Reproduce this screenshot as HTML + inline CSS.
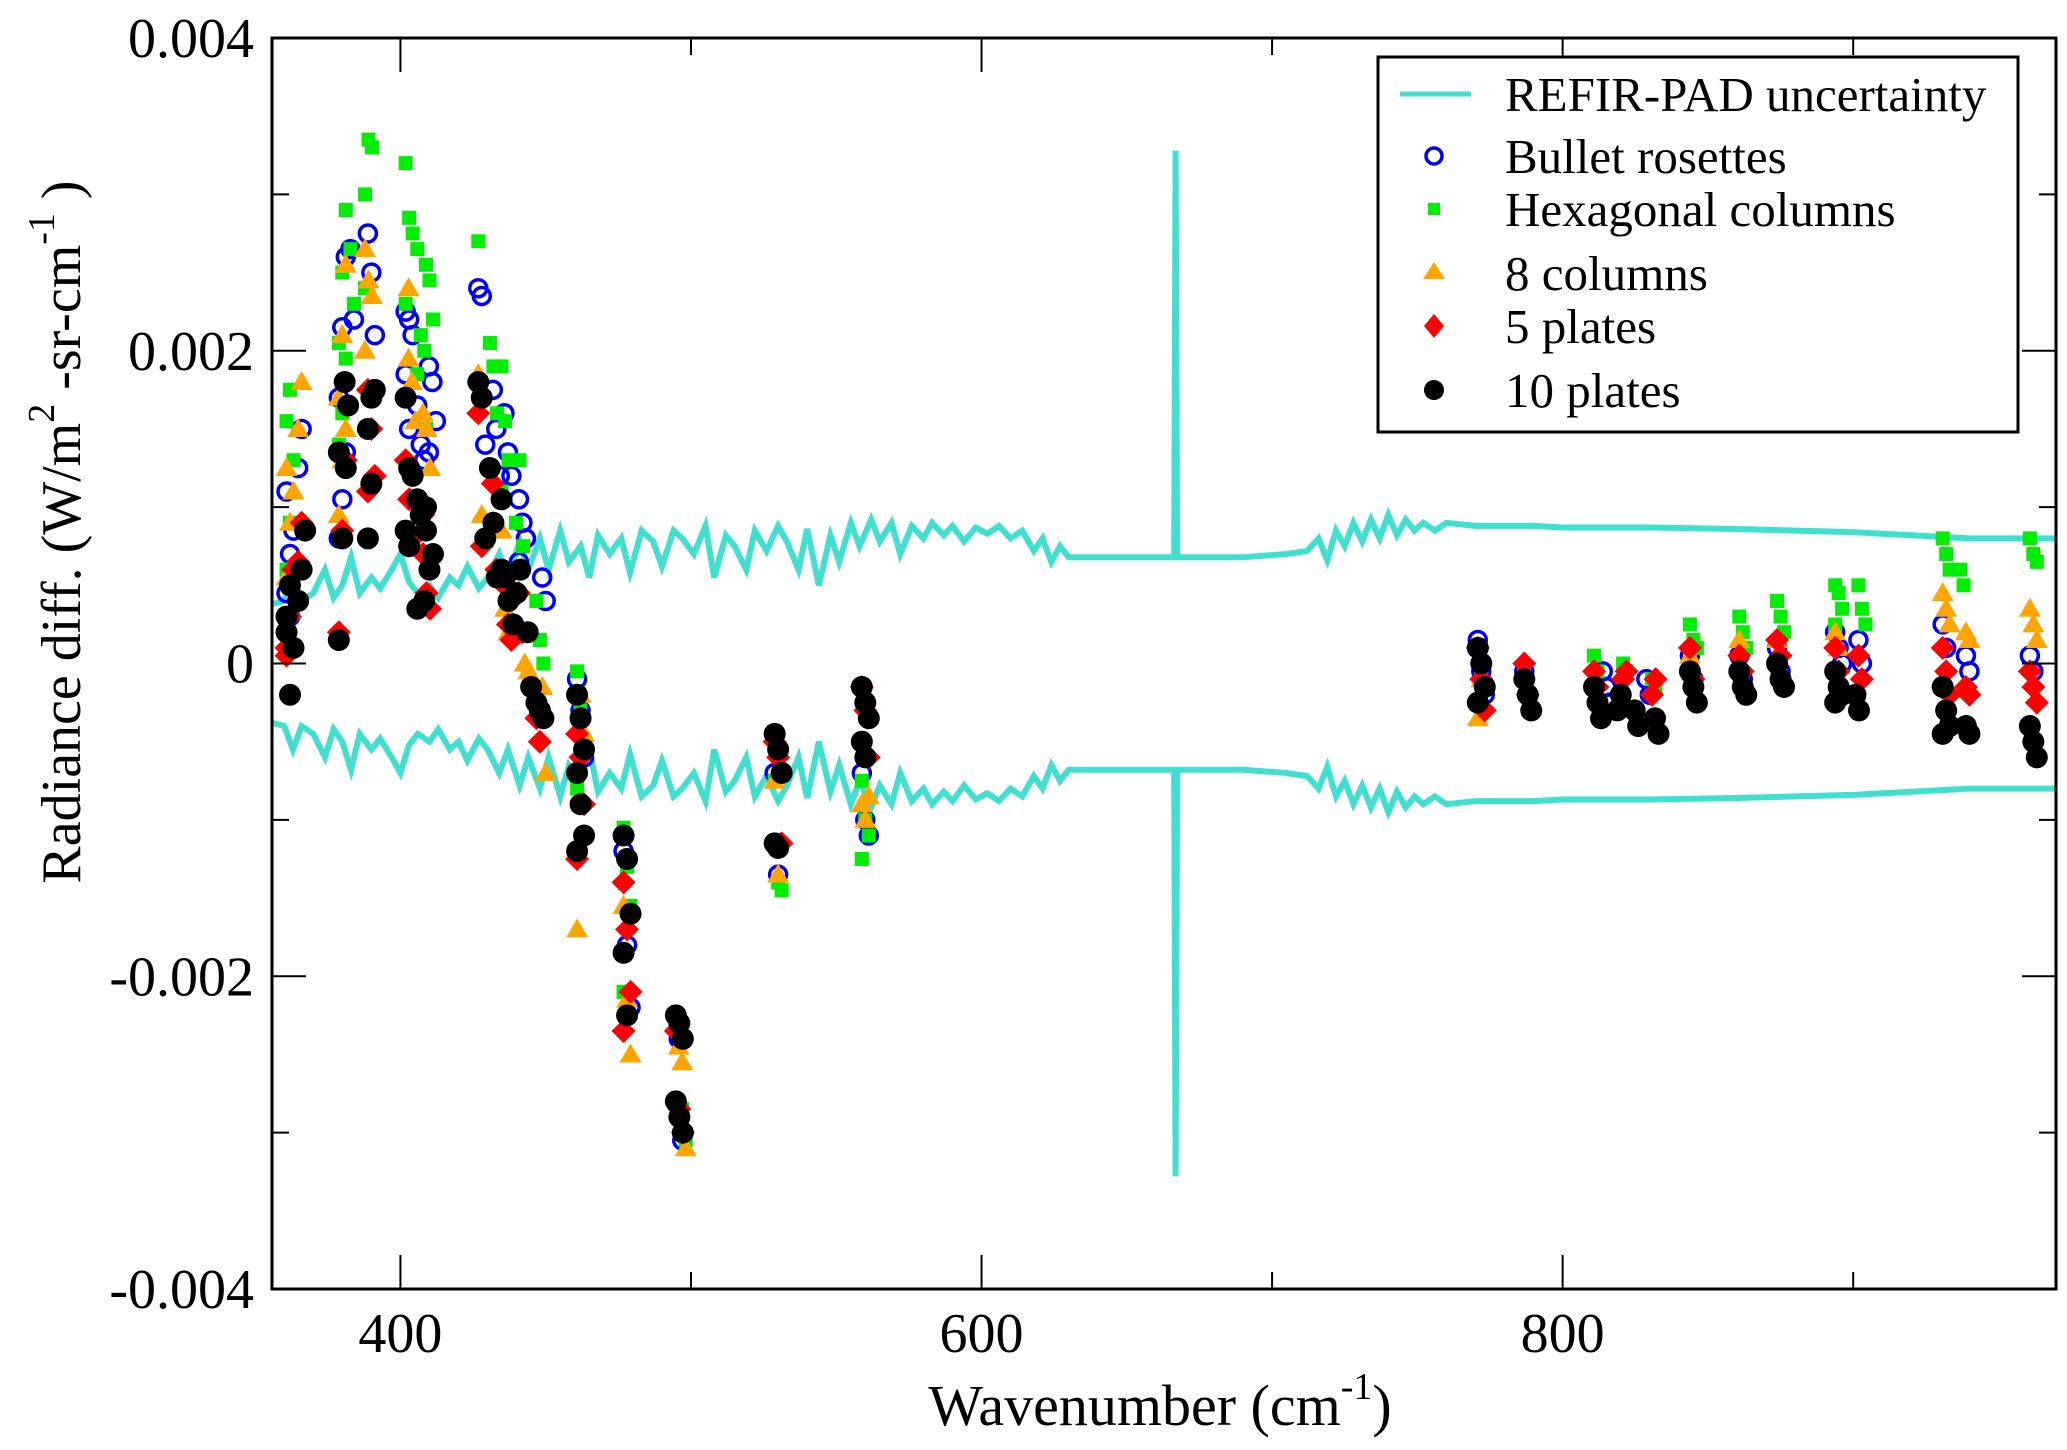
<!DOCTYPE html>
<html><head><meta charset="utf-8">
<style>
html,body{margin:0;padding:0;background:#fff;}
svg{display:block;font-family:"Liberation Serif",serif;}
</style></head>
<body>
<svg id="chart" width="2067" height="1450" viewBox="0 0 2067 1450" xmlns="http://www.w3.org/2000/svg">
<g id="band"></g>
<g id="marks"></g>
<g id="axes"></g>
<g id="legend"></g>
</svg>
<script>
// ---- data (wavenumber cm^-1, radiance diff in 1e-3 W/m2-sr-cm-1) ----
const xTicks = [400, 600, 800];
const xMinorTicks = [500, 700, 900];
const yTicks = [0.004, 0.002, 0, -0.002, -0.004];
const yTickLabels = ["0.004", "0.002", "0", "-0.002", "-0.004"];
const yMinorTicks = [0.003, 0.001, -0.001, -0.003];

const uncWn = [356,360,363,366,370,374,377,380,383,386,390,393,397,400,403,406,410,413,417,420,423,427,430,434,437,441,444,448,451,455,458,462,465,468,472,476,479,483,487,490,494,497,501,505,508,512,515,519,522,526,530,533,537,540,544,548,551,555,558,562,565,569,572,576,580,583,587,590,594,598,602,606,610,614,618,621,624,627,630,650,666.3,666.8,667.3,690,705,712,716,719,722,725,728,731,734,737,740,743,746,749,752,756,760,770,790,800,830,860,900,940,970];
const uncVal = [0.38,0.4,0.55,0.4,0.45,0.6,0.42,0.5,0.68,0.45,0.55,0.48,0.6,0.7,0.52,0.45,0.5,0.42,0.55,0.5,0.62,0.48,0.55,0.7,0.55,0.78,0.6,0.8,0.6,0.85,0.65,0.75,0.55,0.82,0.7,0.8,0.58,0.85,0.78,0.62,0.85,0.8,0.7,0.88,0.55,0.82,0.75,0.6,0.85,0.72,0.88,0.78,0.6,0.86,0.5,0.82,0.65,0.9,0.75,0.92,0.78,0.9,0.7,0.88,0.8,0.9,0.82,0.88,0.78,0.87,0.83,0.88,0.8,0.85,0.72,0.8,0.65,0.75,0.68,0.68,0.68,3.28,0.68,0.68,0.7,0.72,0.8,0.66,0.85,0.75,0.9,0.78,0.92,0.8,0.95,0.82,0.92,0.85,0.9,0.85,0.9,0.88,0.88,0.87,0.87,0.86,0.84,0.8,0.8];

const bulletData = [[362,[0.45,0.7,0.85,1.1,0.3]],[366,[1.25,1.5]],[380,[0.8,1.05,1.35,1.7,2.15,2.6]],[384,[2.65,2.2]],[390,[2.75,2.5,2.1]],[403,[2.25,2.2,2.1,1.85,1.5]],[407,[1.65,1.4,1.3]],[411,[1.9,1.8,1.55,1.35]],[428,[2.4,2.35,1.4]],[433,[1.75,1.5,1.2]],[437,[1.6,1.35,1.2]],[442,[1.05,0.9,0.8,0.65]],[450,[0.55,0.4]],[462,[-0.1,-0.3,-0.6]],[478,[-1.2,-1.8,-2.2]],[497,[-2.4,-3.05]],[530,[-0.7,-1.35]],[560,[-0.7,-1.0,-1.1]],[772,[0.15,-0.05,-0.2]],[788,[-0.05,-0.2]],[815,[-0.05,-0.15,-0.25]],[830,[-0.1,-0.2]],[845,[0.05,-0.1]],[862,[0.05,-0.1]],[875,[0.1,-0.05]],[895,[0.2,0.1,0.0]],[903,[0.15,0.0]],[932,[0.25,0.1]],[940,[0.05,-0.05]],[962,[0.05,-0.05]]];
const hexData = [[362,[0.6,0.9,1.3,1.55,1.75]],[380,[1.4,1.6,1.95,2.05,2.5,2.9]],[384,[2.65,2.3]],[389,[3.0,3.35,3.3,2.4]],[403,[3.2,2.85,2.75,2.3]],[407,[2.65,2.1,2.0,1.85]],[410,[2.55,2.45,2.2,1.5]],[428,[2.7]],[432,[2.05,1.9,1.6]],[436,[1.9,1.55,1.3,1.1]],[441,[0.9,1.3,0.75,0.6]],[448,[0.4,0.15,0.0]],[462,[-0.05,-0.3,-0.55,-0.8]],[478,[-1.05,-1.3,-1.55,-2.1]],[497,[-2.35,-2.85,-3.05]],[530,[-0.75,-1.4,-1.45]],[560,[-0.75,-1.0,-1.1,-1.25]],[772,[0.1,-0.1]],[788,[-0.05]],[812,[0.05,-0.05]],[822,[0.0,-0.05]],[832,[-0.1,-0.15]],[845,[0.25,0.15,0.1]],[862,[0.3,0.2,0.1]],[875,[0.4,0.3,0.2]],[895,[0.5,0.45,0.35,0.25]],[903,[0.5,0.35,0.25]],[932,[0.8,0.7,0.6]],[938,[0.6,0.5]],[962,[0.8,0.7,0.65]]];
const col8Data = [[362,[0.55,0.9,1.1,1.25]],[366,[1.5,1.8]],[380,[0.95,1.3,1.5,1.7,2.1,2.55]],[389,[2.65,2.45,2.35,2.0]],[404,[2.4,1.8,1.55,1.95]],[409,[1.6,1.5,1.25,1.0]],[428,[1.85,0.95]],[436,[0.85,0.35,0.2]],[444,[0.0,-0.05]],[450,[-0.15,-0.7]],[462,[-1.7,-0.2,-0.45]],[478,[-1.55,-2.15,-2.5]],[497,[-2.45,-2.55,-3.1]],[530,[-0.75,-1.35]],[560,[-0.9,-1.0,-0.85]],[772,[-0.35,-0.1]],[845,[0.05]],[862,[0.15]],[875,[0.15]],[895,[0.2,0.1]],[932,[0.45,0.35,0.25]],[940,[0.2,0.15]],[962,[0.35,0.25,0.15]]];
const plate5Data = [[362,[0.1,0.3,0.6,0.05]],[366,[0.65,0.9]],[380,[0.2,0.85,1.3]],[390,[1.75,1.5,1.2,1.1]],[403,[1.3,1.05,0.8]],[409,[0.7,0.45,0.35,0.95]],[428,[1.6,0.75]],[433,[1.15,0.6]],[437,[0.5,0.25,0.15]],[442,[0.45,0.2]],[448,[-0.35,-0.5]],[462,[-0.45,-0.6,-0.9,-1.25]],[478,[-1.4,-1.7,-2.1,-2.35]],[496,[-2.35,-2.85,-3.0]],[530,[-0.5,-0.6,-1.15]],[560,[-0.15,-0.3,-0.6]],[772,[0.1,-0.1,-0.3]],[788,[0.0,-0.2]],[812,[-0.05,-0.15]],[822,[-0.1,-0.05]],[832,[-0.2,-0.1]],[845,[0.1,-0.1]],[862,[0.05,-0.05]],[875,[0.15,0.05]],[895,[0.1,-0.05]],[903,[0.05,-0.1]],[932,[0.1,-0.05,-0.2]],[940,[-0.15,-0.2]],[962,[-0.05,-0.15,-0.25]]];
const plate10Data = [[362,[0.2,-0.2,0.1,0.3,0.5]],[366,[0.4,0.6,0.85]],[380,[0.15,0.8,1.25,1.35]],[382,[1.8,1.65]],[390,[1.5,1.7,1.75,0.8,1.15]],[403,[1.7,1.25,1.2,0.85,0.75]],[407,[1.05,0.95,0.4,0.35]],[410,[0.85,0.6,0.7,1.0]],[428,[1.8,1.7,0.8]],[432,[1.25,0.9,0.55]],[436,[1.05,0.55,0.4,0.6]],[440,[0.25,0.45,0.6]],[445,[0.2,-0.15]],[448,[-0.25,-0.3,-0.35]],[462,[-0.2,-0.35,-0.55,-0.7,-0.9,-1.1,-1.2]],[478,[-1.1,-1.25,-1.6,-1.85,-2.25]],[496,[-2.25,-2.3,-2.4,-2.8,-2.9,-3.0]],[530,[-0.45,-0.55,-0.7,-1.15,-1.18]],[560,[-0.15,-0.25,-0.35,-0.5,-0.6]],[772,[0.1,0.0,-0.15,-0.25]],[788,[-0.1,-0.2,-0.3]],[812,[-0.15,-0.25,-0.35]],[820,[-0.3,-0.2]],[826,[-0.3,-0.4]],[833,[-0.35,-0.45]],[845,[-0.05,-0.15,-0.25]],[862,[-0.05,-0.15,-0.2]],[875,[0.0,-0.1,-0.15]],[895,[-0.05,-0.15,-0.2,-0.25]],[902,[-0.2,-0.3]],[932,[-0.15,-0.3,-0.4,-0.45]],[940,[-0.4,-0.45]],[962,[-0.4,-0.5,-0.6]]];

// ---- layout ----
const L = 272, R = 2056, T = 38, B = 1289;
const X0 = 355.8, X1 = 969.8, Y0 = -0.004, Y1 = 0.004;
const NS = 'http://www.w3.org/2000/svg';
function sx(v){ return L + (v - X0) / (X1 - X0) * (R - L); }
function sy(v){ return B - (v - Y0) / (Y1 - Y0) * (B - T); }
function mk(tag, attrs, parent){ const e = document.createElementNS(NS, tag); for (const k in attrs) e.setAttribute(k, attrs[k]); parent.appendChild(e); return e; }

// uncertainty band
const band = document.getElementById('band');
let up = '', lo = '';
uncWn.forEach((w, i) => {
  up += (i ? 'L' : 'M') + sx(w).toFixed(1) + ',' + sy(uncVal[i] / 1000).toFixed(1);
  lo += (i ? 'L' : 'M') + sx(w).toFixed(1) + ',' + sy(-uncVal[i] / 1000).toFixed(1);
});
const pu = mk('path', {d: up, fill: 'none', stroke: '#40e0d0', 'stroke-width': 6}, band);


const pl = mk('path', {d: lo, fill: 'none', stroke: '#40e0d0', 'stroke-width': 6}, band);



// markers
function drawMarker(kind, cx, cy, g){
  let e;
  if (kind === 'circle') e = mk('circle', {cx: cx, cy: cy, r: 8.5, fill: 'none', stroke: '#0000ff', 'stroke-width': 3.5}, g);
  else if (kind === 'square') e = mk('rect', {x: cx - 7, y: cy - 7, width: 14, height: 14, fill: '#00ee00'}, g);
  else if (kind === 'tri') e = mk('polygon', {points: `${cx},${cy-11} ${cx-11},${cy+8} ${cx+11},${cy+8}`, fill: '#ffa500'}, g);
  else if (kind === 'diamond') e = mk('polygon', {points: `${cx},${cy-12} ${cx+12},${cy} ${cx},${cy+12} ${cx-12},${cy}`, fill: '#ff0000'}, g);
  else e = mk('circle', {cx: cx, cy: cy, r: 11, fill: '#000'}, g);
  return e;
}
const marks = document.getElementById('marks');
const seriesList = [['bullet-rosettes', 'circle', bulletData], ['hexagonal-columns', 'square', hexData], ['8-columns', 'tri', col8Data], ['5-plates', 'diamond', plate5Data], ['10-plates', 'dot', plate10Data]];
seriesList.forEach(s => {
  const g = mk('g', {}, marks);
  
  
  s[2].forEach(grp => {
    grp[1].forEach((v, j) => {
      const m = drawMarker(s[1], sx(grp[0] + (j % 3 - 1) * 1.2), sy(v / 1000), g);
      
      
    });
  });
});

// axes
const ax = document.getElementById('axes');
const frame = mk('rect', {x: L, y: T, width: R - L, height: B - T, fill: 'none', stroke: '#000', 'stroke-width': 3}, ax);


xTicks.forEach(v => {
  const x = sx(v);
  mk('line', {x1: x, y1: B, x2: x, y2: B - 34, stroke: '#000', 'stroke-width': 2}, ax);
  mk('line', {x1: x, y1: T, x2: x, y2: T + 34, stroke: '#000', 'stroke-width': 2}, ax);
  const t = mk('text', {x: x, y: 1352, 'font-size': 56, 'text-anchor': 'middle'}, ax);
  t.textContent = v;
  
  
});
xMinorTicks.forEach(v => {
  const x = sx(v);
  mk('line', {x1: x, y1: B, x2: x, y2: B - 17, stroke: '#000', 'stroke-width': 2}, ax);
  mk('line', {x1: x, y1: T, x2: x, y2: T + 17, stroke: '#000', 'stroke-width': 2}, ax);
});
yTicks.forEach((v, i) => {
  const y = sy(v);
  mk('line', {x1: L, y1: y, x2: L + 34, y2: y, stroke: '#000', 'stroke-width': 2}, ax);
  mk('line', {x1: R, y1: y, x2: R - 34, y2: y, stroke: '#000', 'stroke-width': 2}, ax);
  const t = mk('text', {x: 254, y: y + 19, 'font-size': 56, 'text-anchor': 'end'}, ax);
  t.textContent = yTickLabels[i];
  
  
});
yMinorTicks.forEach(v => {
  const y = sy(v);
  mk('line', {x1: L, y1: y, x2: L + 17, y2: y, stroke: '#000', 'stroke-width': 2}, ax);
  mk('line', {x1: R, y1: y, x2: R - 17, y2: y, stroke: '#000', 'stroke-width': 2}, ax);
});
</script>
<script>
(function(){
const NS = 'http://www.w3.org/2000/svg';
const svg = document.getElementById('chart');
const xt = document.createElementNS(NS, 'text');
xt.setAttribute('x', 1160); xt.setAttribute('y', 1425);
xt.setAttribute('font-size', 58); xt.setAttribute('text-anchor', 'middle');
xt.innerHTML = 'Wavenumber (cm<tspan dy="-26" font-size="38">-1</tspan><tspan dy="26">)</tspan>';


svg.appendChild(xt);
const yt = document.createElementNS(NS, 'text');
yt.setAttribute('transform', 'translate(80,532) rotate(-90)');
yt.setAttribute('font-size', 56); yt.setAttribute('text-anchor', 'middle');
yt.innerHTML = 'Radiance diff. (W/m<tspan dy="-26" font-size="38">2</tspan><tspan dy="26"> -sr-cm</tspan><tspan dy="-26" font-size="38">-1</tspan><tspan dy="26"> )</tspan>';


svg.appendChild(yt);

const lg = document.getElementById('legend');
const box = document.createElementNS(NS, 'rect');
box.setAttribute('x', 1378); box.setAttribute('y', 57); box.setAttribute('width', 640); box.setAttribute('height', 375);
box.setAttribute('fill', '#fff'); box.setAttribute('stroke', '#000'); box.setAttribute('stroke-width', 3);


lg.appendChild(box);
const entries = [['REFIR-PAD uncertainty', 94], ['Bullet rosettes', 156], ['Hexagonal columns', 209], ['8 columns', 273], ['5 plates', 326], ['10 plates', 390]];
const sym = [
 '<line x1="1400" y1="94" x2="1471" y2="94" stroke="#40e0d0" stroke-width="5"/>',
 '<circle cx="1434" cy="156" r="8" fill="none" stroke="#0000ff" stroke-width="3.5"/>',
 '<rect x="1428" y="203" width="12" height="12" fill="#00ee00"/>',
 '<polygon points="1434,262 1423,279 1445,279" fill="#ffa500"/>',
 '<polygon points="1434,314 1444,326 1434,338 1424,326" fill="#ff0000"/>',
 '<circle cx="1434" cy="390" r="10" fill="#000"/>'];
entries.forEach((e, i) => {
  const g = document.createElementNS(NS, 'g');
  
  
  g.innerHTML = sym[i] + '<text x="1505" y="' + (e[1] + 17) + '" font-size="49">' + e[0] + '</text>';
  lg.appendChild(g);
});
})();
</script>
</body></html>
